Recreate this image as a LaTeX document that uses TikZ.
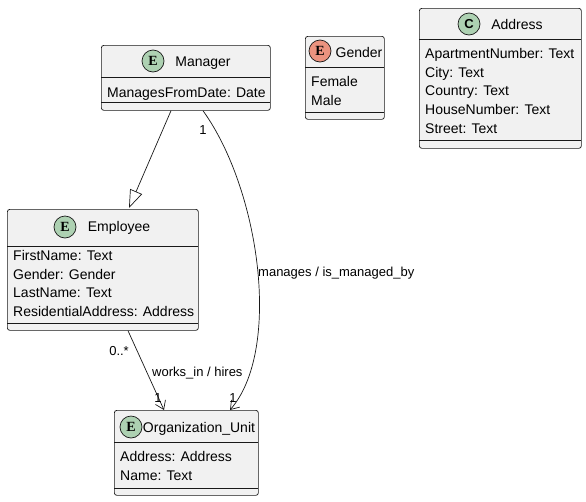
\documentclass[tikz,border=0pt]{standalone}
\usepackage{fontspec}
\setmainfont{Liberation Sans}
\newfontfamily\iconfont{Liberation Serif}
\usetikzlibrary{arrows.meta,calc}
\definecolor{lc}{HTML}{181818}
\definecolor{bg}{HTML}{F1F1F1}
\definecolor{ent}{HTML}{ADD1B2}
\definecolor{enm}{HTML}{EB937F}
\begin{document}
\begin{tikzpicture}[x=1pt,y=-1pt,
 box/.style={draw=lc, fill=bg, rounded corners=2.5pt, line width=0.7pt, inner sep=0pt, anchor=north west},
 sep/.style={draw=lc, line width=0.7pt},
 ttl/.style={font=\fontsize{14}{16}\selectfont, anchor=base, inner sep=0pt},
 attr/.style={font=\fontsize{14}{16}\selectfont, anchor=base west, inner sep=0pt},
 ico/.style={circle, draw=lc, line width=0.7pt, minimum size=22pt, inner sep=0pt, font=\iconfont\bfseries\fontsize{14}{14}\selectfont},
 icoc/.style={ico, font=\bfseries\fontsize{13}{13}\selectfont},
 lbl/.style={font=\fontsize{13}{15}\selectfont, inner sep=0pt},
 conn/.style={draw=lc, line width=0.7pt},
]
\useasboundingbox (0,0) rectangle (586,501);

% Manager
\node[box, minimum width=169pt, minimum height=65pt] (mgr) at (101,45) {};
\draw[sep] (101,77) -- (270,77);
\draw[sep] (101,102) -- (270,102);
\node[ico, fill=ent] (mgrI) at (153,61) {E};
\node[ttl] (mgrT) at (203,66) {Manager};
\node[attr] (mgrA1) at (107,97) {ManagesFromDate: Date};

% Gender
\node[box, minimum width=79pt, minimum height=83pt] (gen) at (305,36) {};
\draw[sep] (305,67) -- (384,67);
\draw[sep] (305,112) -- (384,112);
\node[ico, fill=enm] (genI) at (320,51) {E};
\node[ttl] (genT) at (359,57) {Gender};
\node[attr] (genA1) at (311,86) {Female};
\node[attr] (genA2) at (311,105) {Male};

% Address
\node[box, minimum width=162pt, minimum height=140pt] (adr) at (419,8) {};
\draw[sep] (419,39) -- (581,39);
\draw[sep] (419,140) -- (581,140);
\node[icoc, fill=ent] (adrI) at (469,24) {C};
\node[ttl] (adrT) at (517,29) {Address};
\node[attr] (adrA1) at (425,58) {ApartmentNumber: Text};
\node[attr] (adrA2) at (425,77) {City: Text};
\node[attr] (adrA3) at (425,95.5) {Country: Text};
\node[attr] (adrA4) at (425,114) {HouseNumber: Text};
\node[attr] (adrA5) at (425,133) {Street: Text};

% Employee
\node[box, minimum width=191pt, minimum height=121pt] (emp) at (7,209) {};
\draw[sep] (7,246) -- (198,246);
\draw[sep] (7,323) -- (198,323);
\node[ico, fill=ent] (empI) at (65,227) {E};
\node[ttl] (empT) at (119,231) {Employee};
\node[attr] (empA1) at (13,260) {FirstName: Text};
\node[attr] (empA2) at (13,279) {Gender: Gender};
\node[attr] (empA3) at (13,297.5) {LastName: Text};
\node[attr] (empA4) at (13,316) {ResidentialAddress: Address};

% Organization_Unit
\node[box, minimum width=144pt, minimum height=85pt] (org) at (114,410) {};
\draw[sep] (114,442) -- (258,442);
\draw[sep] (114,488) -- (258,488);
\node[ico, fill=ent] (orgI) at (131,427) {E};
\node[ttl] (orgT) at (199,432) {Organization\_Unit};
\node[attr] (orgA1) at (120,461) {Address: Address};
\node[attr] (orgA2) at (120,480) {Name: Text};

% connector end points on the boxes
\coordinate (mgrS1) at ($(mgr.south west)+(70,0)$);
\coordinate (mgrS2) at ($(mgr.south west)+(102,0)$);
\coordinate (empN) at ($(emp.north west)+(122,-1)$);
\coordinate (empS) at ($(emp.south west)+(121,0)$);
\coordinate (orgN1) at ($(org.north west)+(50,0)$);
\coordinate (orgN2) at ($(org.north west)+(116,0)$);

% inheritance
\draw[conn, -{Triangle[open,length=18pt,width=13pt,fill=white]}] (mgrS1) -- (empN);
% manages
\draw[conn, -{Straight Barb[length=8pt,width=11pt]}] (mgrS2) .. controls (260,190) and (282,350) .. (orgN2);
% works_in
\draw[conn, -{Straight Barb[length=8pt,width=11pt]}] (empS) -- (orgN1);

% labels
\node[lbl, anchor=base] (l1) at (203,134) {1};
\node[lbl, anchor=base west] (l2) at (258,276) {manages / is\_managed\_by};
\node[lbl, anchor=base] (l3) at (233,402) {1};
\node[lbl, anchor=base east] (l4) at (129,355) {0..*};
\node[lbl, anchor=base west] (l5) at (152,376) {works\_in / hires};
\node[lbl, anchor=base] (l6) at (158,402) {1};
\end{tikzpicture}
\end{document}
